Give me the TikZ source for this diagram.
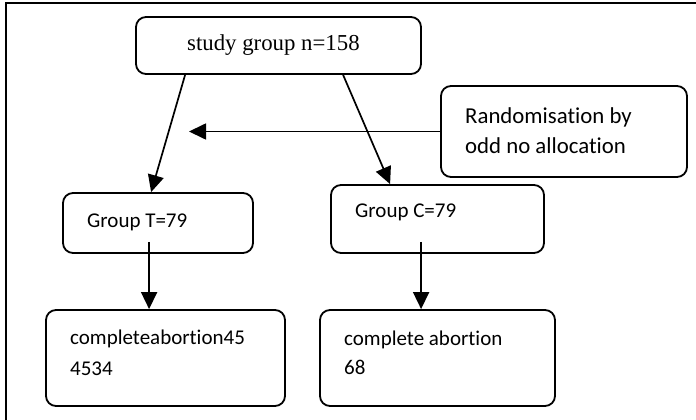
\documentclass[tikz,border=0pt]{standalone}
\usepackage{fontspec}
\setmainfont{Carlito}[Ligatures={NoCommon}]
\newfontfamily\serifbox{Liberation Serif}
\usetikzlibrary{arrows.meta,calc}
\tikzset{
  box/.style={draw, line width=1.8pt, rounded corners=10pt, inner sep=0pt},
  txt/.style={anchor=base west, inner sep=0pt, font=\fontsize{21}{31}\selectfont},
  arr/.style={line width=1.7pt, -{Triangle[length=17pt,width=16pt]}}
}
\begin{document}
\begin{tikzpicture}[x=1pt,y=-1pt]
\useasboundingbox (0,0) rectangle (696,420);
\fill[white] (0,0) rectangle (696,420);
% frame
\draw[line width=2.4pt] (6,420) -- (6,3) -- (696,3);
% boxes
\node[box, minimum width=285pt, minimum height=57pt] (sg) at (278.5,45.5) {};
\node[box, minimum width=246pt, minimum height=91pt] (rand) at (564,131.5) {};
\node[box, minimum width=190pt, minimum height=60pt] (gT) at (158,223) {};
\node[box, minimum width=213pt, minimum height=68pt] (gC) at (437.5,219) {};
\node[box, minimum width=239pt, minimum height=96pt] (cT) at (165.5,358) {};
\node[box, minimum width=235pt, minimum height=96pt] (cC) at (437.5,358) {};
% texts
\node[txt, font=\serifbox\fontsize{22.8}{27}\selectfont] (tsg) at (187,51) {study group n=158};
\node[txt, font=\fontsize{22.8}{30}\selectfont] (tr1) at (465,123) {Randomisation by};
\node[txt, font=\fontsize{22.8}{30}\selectfont] (tr2) at (465,153) {odd no allocation};
\node[txt] (tgT) at (87,227) {Group T=79};
\node[txt] (tgC) at (355,217) {Group C=79};
\node[txt] (tcT1) at (70,344) {completeabortion45};
\node[txt] (tcT2) at (70,375) {4534};
\node[txt] (tcC1) at (344,345) {complete abortion};
\node[txt] (tcC2) at (344,374) {68};
% connectors
\coordinate (hEnd) at (189,131.5);
\draw[arr] ($(sg.south west)+(50,0)$) -- ($(gT.north west)+(89,0)$);
\draw[arr] ($(sg.south west)+(208,0)$) -- ($(gC.north west)+(60,0)$);
\draw[arr] (rand.west) -- (hEnd);
\draw[arr] ($(gT.south west)+(87,-12)$) -- ($(cT.north west)+(104,0)$);
\draw[arr] ($(gC.south west)+(91,-12)$) -- ($(cC.north west)+(102,0)$);
\end{tikzpicture}
\end{document}
